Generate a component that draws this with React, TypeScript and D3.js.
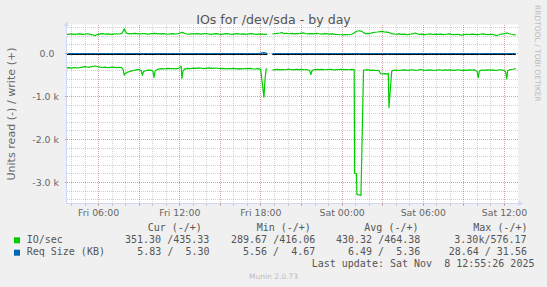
import React from 'react';
import * as d3 from 'd3';

const W = 547;
const H = 287;

// time in hours since Fri 2025-11-07 00:00 UTC
const startHour = 3 + 35 / 60 + 26 / 3600;
const endHour = 36 + 55 / 60 + 26 / 3600;

// IO/sec write (+)
const writeIO: [number, number][] = [
  [3.59,452],[3.8,447],[4.0,455],[4.2,444],[4.4,451],[4.6,458],[4.8,446],[5.0,452],[5.2,460],[5.4,446],[5.6,431],[5.75,418],[5.9,441],
  [6.1,455],[6.3,462],[6.5,449],[6.7,458],[6.9,447],[7.1,453],[7.3,460],[7.5,454],[7.7,462],[7.82,520],[7.9,576],[7.98,512],[8.1,468],
  [8.3,457],[8.5,463],[8.7,470],[8.9,459],[9.1,455],[9.3,466],[9.5,458],[9.7,450],[9.9,462],[10.1,470],[10.3,464],[10.5,457],[10.7,462],
  [10.9,455],[11.1,448],[11.3,458],[11.5,463],[11.7,454],[11.9,465],[12.05,482],[12.2,492],[12.35,466],[12.5,458],[12.7,451],[12.9,460],
  [13.1,455],[13.3,463],[13.5,450],[13.7,458],[13.9,466],[14.1,455],[14.3,447],[14.5,458],[14.7,463],[14.9,452],[15.1,447],[15.3,455],
  [15.5,461],[15.7,450],[15.9,445],[16.1,455],[16.3,462],[16.5,449],[16.7,458],[16.9,447],[17.1,455],[17.3,461],[17.5,452],[17.7,447],
  [17.9,455],[18.1,450],[18.3,444],[18.47,450],[18.65,NaN],[18.85,455],[19.0,460],[19.2,468],[19.4,477],[19.55,488],[19.7,465],[19.9,472],
  [20.1,460],[20.3,468],[20.5,455],[20.7,462],[20.9,470],[21.1,482],[21.3,465],[21.5,457],[21.7,463],[21.9,455],[22.1,468],[22.3,460],
  [22.5,452],[22.7,462],[22.9,457],[23.1,450],[23.3,455],[23.5,447],[23.7,442],[23.9,437],[24.1,432],[24.3,440],[24.5,436],[24.7,448],
  [24.85,470],[25.0,505],[25.15,524],[25.3,530],[25.45,515],[25.6,480],[25.75,462],[25.9,470],[26.05,465],[26.2,482],[26.4,495],[26.6,500],
  [26.8,508],[26.95,516],[27.1,505],[27.3,498],[27.5,485],[27.65,462],[27.8,455],[28.0,448],[28.2,455],[28.4,445],[28.6,452],[28.8,440],
  [29.0,448],[29.2,455],[29.4,478],[29.55,460],[29.7,445],[29.9,452],[30.1,440],[30.3,448],[30.5,455],[30.7,442],[30.9,450],[31.1,445],
  [31.3,452],[31.5,440],[31.7,448],[31.9,455],[32.1,445],[32.3,438],[32.5,448],[32.7,440],[32.85,425],[33.0,438],[33.2,448],[33.4,442],
  [33.6,450],[33.8,445],[34.0,440],[34.2,448],[34.4,455],[34.6,445],[34.8,438],[35.0,448],[35.2,440],[35.4,418],[35.55,430],[35.7,448],
  [35.9,455],[36.05,470],[36.2,478],[36.35,460],[36.5,448],[36.65,440],[36.83,435],
];

// IO/sec read (-)
const readIO: [number, number][] = [
  [3.59,-335],[3.8,-330],[4.0,-340],[4.2,-325],[4.4,-335],[4.6,-328],[4.8,-318],[5.0,-305],[5.2,-320],[5.4,-310],[5.6,-296],[5.75,-291],
  [5.9,-302],[6.1,-318],[6.3,-325],[6.5,-315],[6.7,-330],[6.9,-322],[7.1,-318],[7.3,-328],[7.5,-320],[7.7,-325],[7.82,-380],[7.89,-502],
  [7.98,-462],[8.1,-440],[8.25,-425],[8.4,-410],[8.6,-395],[8.8,-380],[9.0,-370],[9.15,-400],[9.24,-505],[9.32,-420],[9.5,-395],[9.7,-385],
  [9.9,-390],[10.02,-420],[10.1,-553],[10.18,-400],[10.35,-370],[10.5,-355],[10.7,-350],[10.9,-360],[11.1,-345],[11.3,-352],[11.5,-348],
  [11.7,-355],[11.9,-345],[12.05,-305],[12.1,-292],[12.16,-580],[12.24,-400],[12.4,-355],[12.6,-345],[12.8,-350],[13.0,-338],[13.2,-345],
  [13.4,-335],[13.6,-342],[13.8,-350],[14.0,-340],[14.2,-335],[14.4,-345],[14.6,-338],[14.8,-342],[15.0,-350],[15.2,-345],[15.4,-355],
  [15.6,-348],[15.8,-352],[16.0,-345],[16.2,-355],[16.4,-350],[16.6,-358],[16.8,-348],[17.0,-352],[17.2,-345],[17.4,-355],[17.6,-360],
  [17.8,-352],[17.98,-370],[18.1,-700],[18.22,-1015],[18.3,-600],[18.38,-360],[18.47,-355],[18.65,NaN],[18.85,-385],[19.0,-375],[19.2,-368],
  [19.4,-380],[19.6,-372],[19.8,-378],[20.0,-365],[20.2,-372],[20.4,-380],[20.6,-370],[20.8,-375],[21.0,-368],[21.2,-378],[21.4,-372],
  [21.6,-400],[21.69,-490],[21.78,-395],[21.95,-375],[22.1,-368],[22.3,-375],[22.5,-370],[22.7,-378],[22.9,-372],[23.1,-368],[23.3,-375],
  [23.5,-380],[23.7,-372],[23.9,-368],[24.1,-375],[24.3,-372],[24.5,-378],[24.7,-370],[24.89,-375],[24.92,-2790],[25.06,-2790],[25.09,-3270],
  [25.2,-3290],[25.3,-3285],[25.39,-3300],[25.58,-385],[25.7,-385],[25.9,-375],[26.1,-390],[26.3,-385],[26.5,-395],[26.7,-390],[26.85,-470],
  [27.0,-475],[27.2,-468],[27.35,-480],[27.41,-460],[27.46,-1260],[27.66,-420],[27.8,-390],[28.0,-385],[28.2,-395],[28.4,-388],[28.6,-380],
  [28.8,-392],[29.0,-385],[29.2,-378],[29.4,-390],[29.6,-385],[29.8,-372],[30.0,-385],[30.2,-392],[30.4,-380],[30.6,-388],[30.8,-395],
  [31.0,-385],[31.2,-378],[31.4,-390],[31.6,-382],[31.8,-388],[32.0,-380],[32.2,-392],[32.4,-385],[32.6,-378],[32.8,-390],[33.0,-385],
  [33.2,-392],[33.4,-380],[33.6,-388],[33.8,-382],[33.98,-420],[34.06,-563],[34.14,-410],[34.3,-385],[34.5,-392],[34.7,-380],[34.9,-388],
  [35.1,-382],[35.3,-390],[35.5,-385],[35.7,-378],[35.9,-388],[36.08,-420],[36.16,-588],[36.24,-400],[36.4,-375],[36.6,-365],[36.83,-351],
];

// Req Size (KB)
const reqWrite: [number, number][] = [
  [3.59,5.2],[6,5.4],[9,5.1],[12,5.5],[15,5.3],[17.9,5.6],[18.0,20],[18.1,31.56],[18.3,25],[18.47,6],[18.65,NaN],
  [18.85,5.0],[21,5.4],[24,5.6],[27,5.2],[30,5.4],[33,5.3],[36.83,5.3],
];
const reqRead: [number, number][] = [
  [3.59,-6.3],[6,-6.6],[9,-6.9],[12,-6.4],[15,-6.2],[18,-6.8],[18.47,-7],[18.65,NaN],[18.85,-28.64],[18.95,-8],
  [21,-6.5],[24,-6.2],[27,-6.6],[30,-6.4],[33,-6.1],[36.83,-5.83],
];

const legendHeaders = ['Cur (-/+)', 'Min (-/+)', 'Avg (-/+)', 'Max (-/+)'];
const ioStats = ['351.30 /435.33', '289.67 /416.06', '430.32 /464.38', '3.30k/576.17'];
const reqStats = ['5.83 /  5.30', '5.56 /  4.67', '6.49 /  5.36', '28.64 / 31.56'];
const seriesNames = ['IO/sec', 'Req Size (KB)'];
const seriesColors = ['#00CC00', '#0066B3'];
const lastUpdate = 'Last update: Sat Nov  8 12:55:26 2025';

const base = Date.UTC(2025, 10, 7);
const toDate = (h: number) => new Date(base + h * 3600 * 1000);

export default function App() {
  const x = d3.scaleUtc().domain([toDate(startHour), toDate(endHour)]).range([66, 517]);
  const y = d3.scaleLinear().domain([-3488, 675]).range([203.5, 24.5]);
  const left = 66.5, right = 518, top = 24.5, bottom = 203.5;

  const line = d3.line<[number, number]>()
    .defined(d => !isNaN(d[1]))
    .x(d => x(toDate(d[0])))
    .y(d => y(d[1]));

  const zeroLine = readIO.map(d => [d[0], d[1] * 0] as [number, number]);

  const minorX = x.ticks(d3.utcHour.every(1)!);
  const majorX = x.ticks(d3.utcHour.every(3)!);
  const labelX = x.ticks(d3.utcHour.every(6)!);
  const fmt = d3.utcFormat('%a %H:%M');
  const minorY = d3.range(-3400, 700, 200).filter(v => y(v) >= top && v % 1000 !== 0);
  const majorY = [-3000, -2000, -1000, 0];
  const crisp = (v: number) => Math.floor(v) + 0.5;

  const sans = 'DejaVu Sans, sans-serif';
  const mono = 'DejaVu Sans Mono, monospace';
  const headerX = [147.7, 256.7, 364.3, 473.3];
  const ioX = [125, 231, 336, 454.3];
  const reqX = [137.3, 243, 348, 448.7];
  const pre = { whiteSpace: 'pre' as const };

  return (
    <svg width={W} height={H} style={{ position: 'absolute', left: 0, top: 0 }}>
      <rect x={0} y={0} width={W} height={H} fill="#F0F0F0" />
      <rect x={left} y={top} width={right - left} height={bottom - top} fill="#FFFFFF" />
      {/* minor grid */}
      <g stroke="#8C8C8C" strokeOpacity={0.4} strokeDasharray="1,1" shapeRendering="crispEdges">
        {minorX.filter(d => !majorX.some(m => +m === +d)).map((d, i) => (
          <line key={'mx' + i} x1={crisp(x(d))} x2={crisp(x(d))} y1={top} y2={bottom} />
        ))}
        {minorY.map((v, i) => (
          <line key={'my' + i} x1={left} x2={right} y1={crisp(y(v))} y2={crisp(y(v))} />
        ))}
      </g>
      {/* major grid */}
      <g stroke="#821E1E" strokeOpacity={0.4} strokeDasharray="1,1" shapeRendering="crispEdges">
        {majorX.map((d, i) => (
          <line key={'Mx' + i} x1={crisp(x(d))} x2={crisp(x(d))} y1={top} y2={bottom} />
        ))}
        {majorY.map((v, i) => (
          <line key={'My' + i} x1={left} x2={right} y1={crisp(y(v))} y2={crisp(y(v))} />
        ))}
      </g>
      {/* data */}
      <g fill="none" strokeWidth={1.2} strokeLinejoin="round">
        <path d={line(writeIO) || ''} stroke={seriesColors[0]} />
        <path d={line(readIO) || ''} stroke={seriesColors[0]} />
        <path d={line(reqRead) || ''} stroke={seriesColors[1]} strokeWidth={1} />
        <path d={line(reqWrite) || ''} stroke={seriesColors[1]} strokeWidth={1} transform="translate(0,0.25)" />
        <path d={line(zeroLine) || ''} stroke="#000000" strokeWidth={1} transform="translate(0,1)" />
      </g>
      {/* axes */}
      <g stroke="#CFD6F8" shapeRendering="crispEdges">
        <line x1={left} x2={left} y1={top - 1} y2={bottom} />
        <line x1={left} x2={right + 1} y1={bottom} y2={bottom} />
      </g>
      <path d={`M${left - 2.5},26 L${left},21.5 L${left + 2.5},26 Z`} fill="#CFD6F8" />
      <path d={`M518.5,${bottom - 2.5} L523,${bottom} L518.5,${bottom + 2.5} Z`} fill="#CFD6F8" />
      {/* ticks */}
      <g shapeRendering="crispEdges">
        {minorX.map((d, i) => (
          <line key={'tx' + i} x1={crisp(x(d))} x2={crisp(x(d))} y1={bottom - 1} y2={bottom + 2}
            stroke={majorX.some(m => +m === +d) ? '#CDA5A5' : '#C8C8C8'} />
        ))}
        {majorY.map((v, i) => (
          <line key={'ty' + i} x1={left - 2} x2={left + 1} y1={crisp(y(v))} y2={crisp(y(v))} stroke="#CDA5A5" />
        ))}
      </g>
      {/* tick labels */}
      <g fontFamily={sans} fontSize={9.4} fill="#666666">
        {majorY.map((v, i) => (
          <text key={'ly' + i} x={v === 0 ? 54.5 : 59} y={y(v) + 3.6} textAnchor="end">
            {v === 0 ? '0.0' : `${(v / 1000).toFixed(1)} k`}
          </text>
        ))}
        {labelX.map((d, i) => (
          <text key={'lx' + i} x={x(d)} y={216} textAnchor="middle">{fmt(d)}</text>
        ))}
      </g>
      <text x={273.5} y={24} textAnchor="middle" fontFamily={sans} fontSize={12.6} fill="#555555">
        IOs for /dev/sda - by day
      </text>
      <text transform="translate(14.5,114) rotate(-90)" textAnchor="middle" fontFamily={sans} fontSize={11.1} fill="#666666">
        Units read (-) / write (+)
      </text>
      <text transform="translate(535,5) rotate(90)" fontFamily={sans} fontSize={7.5} fill="#BBBBBB">
        RRDTOOL / TOBI OETIKER
      </text>
      <text x={273.5} y={278.5} textAnchor="middle" fontFamily={sans} fontSize={7.5} fill="#BBBBBB">
        Munin 2.0.73
      </text>
      {/* legend */}
      <g fontFamily={mono} fontSize={10} fill="#555555">
        {legendHeaders.map((t, i) => (
          <text key={'h' + i} x={headerX[i]} y={231} xmlSpace="preserve" style={pre}>{t}</text>
        ))}
        <rect x={14} y={237.3} width={6} height={6} fill={seriesColors[0]} />
        <text x={26.7} y={242.7} xmlSpace="preserve" style={pre}>{seriesNames[0]}</text>
        {ioStats.map((t, i) => (
          <text key={'io' + i} x={ioX[i]} y={242.7} xmlSpace="preserve" style={pre}>{t}</text>
        ))}
        <rect x={14} y={249.7} width={6} height={6} fill={seriesColors[1]} />
        <text x={26.7} y={255} xmlSpace="preserve" style={pre}>{seriesNames[1]}</text>
        {reqStats.map((t, i) => (
          <text key={'rq' + i} x={reqX[i]} y={255} xmlSpace="preserve" style={pre}>{t}</text>
        ))}
        <text x={311.7} y={266.5} xmlSpace="preserve" style={pre}>{lastUpdate}</text>
      </g>
    </svg>
  );
}
